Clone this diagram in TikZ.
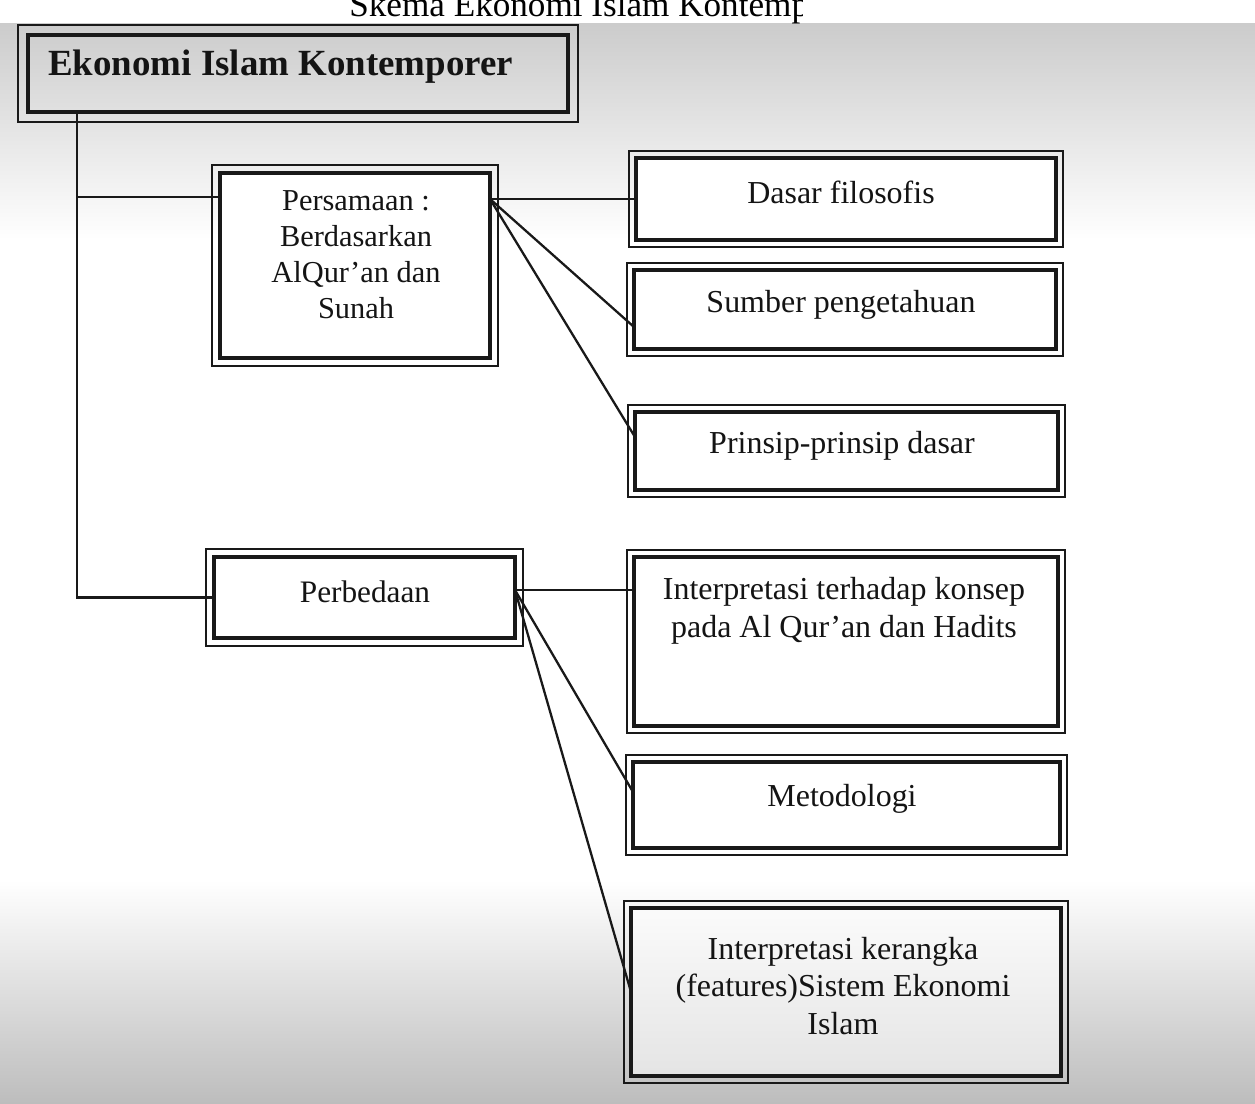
\documentclass[tikz,border=0pt]{standalone}
\usepackage{fontspec}
\setmainfont{Liberation Serif}

% double-ruled box: thick inner frame (the named node) and a thin outer frame
% #1 gap, #2 name, #3 extra style, #4-#7 inner corners (x1,y1,x2,y2)
\newcommand\dbox[7][7]{%
  \node[innerbox, #3, minimum width={0.02cm*(#6-#4)}, minimum height={0.02cm*(#7-#5)}]
    (#2) at ({(#4+#6)/2},{(#5+#7)/2}) {};
  \draw[outerline] ([shift={(-#1,-#1)}]#2.north west) rectangle ([shift={(#1,#1)}]#2.south east);}

\begin{document}
\begin{tikzpicture}[x=0.02cm, y=-0.02cm,
  innerbox/.style={draw=black!90, line width=2pt, inner sep=0pt, outer sep=0pt, rectangle},
  outerline/.style={draw=black!90, line width=1.1pt},
  link/.style={draw=black!90, line width=1.3pt},
  boxtext/.style={font=\fontsize{17.3}{20}\selectfont, align=center, inner sep=0pt, text=black!92},
  sidetext/.style={boxtext, font=\fontsize{18.2}{21.5}\selectfont},
]
\useasboundingbox (0,0) rectangle (1255,1104);

% paper and the grey haze of the print
\fill[white] (0,0) rectangle (1255,1104);
\shade[top color=black!20, bottom color=white] (0,24) rectangle (1255,240);
\shade[top color=white, bottom color=black!26] (0,880) rectangle (1255,1104);

% running heading, cut at the top edge and fading out on the right
\begin{scope}
  \clip (0,0) rectangle (802,26);
  \node[anchor=base west, inner sep=0pt, font=\fontsize{20}{22}\selectfont] (heading)
    at (349,17) {Skema Ekonomi Islam Kontemporer};
\end{scope}

% boxes
\dbox[10]{main}{}{28}{35}{568}{112}
\dbox[8]{pers}{fill=white}{220}{173}{490}{358}
\dbox{dasar}{fill=white}{636}{158}{1056}{240}
\dbox{sumber}{fill=white}{634}{270}{1056}{349}
\dbox{prinsip}{fill=white}{635}{412}{1058}{490}
\dbox[8]{perb}{fill=white}{214}{557}{515}{638}
\dbox{konsep}{fill=white}{634}{557}{1058}{726}
\dbox{metod}{fill=white}{633}{762}{1060}{848}
\dbox{kerangka}{fill=white, fill opacity=0.55}{631}{908}{1061}{1076}

% trunk and branches
\coordinate (branchA) at (77,197);
\draw[link] (77,0 |- main.south) -- (77,0 |- perb.west) -- (perb.west);
\draw[link] (branchA) -- (pers.west |- branchA);

% fans to the right-hand boxes
\coordinate (fanA) at (pers.east |- dasar.west);
\draw[link] (fanA) -- (dasar.west);
\draw[link] (fanA) -- (sumber.west |- 0,327);
\draw[link] (fanA) -- (prinsip.west |- 0,437);

\coordinate (fanB) at (perb.east |- 0,590);
\draw[link] (fanB) -- (konsep.west |- fanB);
\draw[link] (fanB) -- (metod.west |- 0,792);
\draw[link] (fanB) -- (kerangka.west);

% labels
\node[boxtext, font=\bfseries\fontsize{21}{24}\selectfont, anchor=west] (main-t) at (48,67) {Ekonomi Islam Kontemporer};
\node[boxtext, font=\fontsize{17.3}{20.5}\selectfont] (pers-t) at (356,255) {Persamaan :\\Berdasarkan\\AlQur'an dan\\Sunah};
\node[sidetext] (dasar-t) at (841,192) {Dasar filosofis};
\node[sidetext] (sumber-t) at (841,305) {Sumber pengetahuan};
\node[sidetext] (prinsip-t) at (842,446) {Prinsip-prinsip dasar};
\node[sidetext, font=\fontsize{17.8}{21}\selectfont] (perb-t) at (365,592) {Perbedaan};
\node[sidetext] (konsep-t) at (844,611) {Interpretasi terhadap konsep\\pada Al Qur'an dan Hadits};
\node[sidetext] (metod-t) at (842,799) {Metodologi};
\node[sidetext] (kerangka-t) at (843,986) {Interpretasi kerangka\\(features)Sistem Ekonomi\\Islam};
\end{tikzpicture}
\end{document}
